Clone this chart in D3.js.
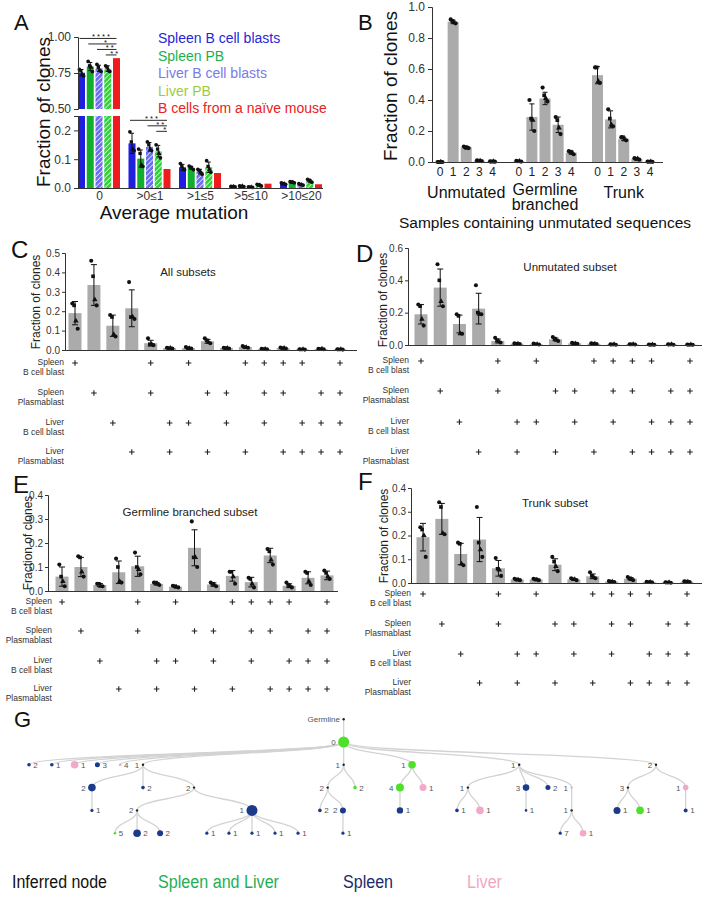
<!DOCTYPE html>
<html>
<head>
<meta charset="utf-8">
<script src="https://cdn.jsdelivr.net/npm/d3@7"></script>
<style>
body { margin: 0; background: #fff; }
text { font-family: "Liberation Sans", Arial, sans-serif; }
</style>
</head>
<body>
<script>
// ---------- panel A data
const aGroups = ['0', '>0≤1', '>1≤5', '>5≤10', '>10≤20'];
const aSeries = ['Spleen B cell blasts', 'Spleen PB', 'Liver B cell blasts', 'Liver PB', 'B cells from a naïve mouse'];
const aSpleenB = [0.752, 0.155, 0.072, 0.005, 0.015];
const aSpleenPB = [0.795, 0.102, 0.070, 0.006, 0.020];
const aLiverB = [0.782, 0.143, 0.057, 0.003, 0.012];
const aLiverPB = [0.780, 0.128, 0.072, 0.010, 0.025];
const aNaive = [0.853, 0.066, 0.052, 0.015, 0.013];
const aSD = [
    [0.022, 0.035, 0.010, 0.001, 0.002],
    [0.028, 0.030, 0.005, 0.001, 0.002],
    [0.022, 0.015, 0.008, 0.001, 0.002],
    [0.020, 0.020, 0.018, 0.003, 0.004],
    [0, 0, 0, 0, 0]
];
const aPoints = [
    [[0.775, 0.765, 0.74, 0.73], [0.195, 0.16, 0.135, 0.13], [0.085, 0.075, 0.065, 0.063], [0.006, 0.005, 0.005, 0.004], [0.018, 0.015, 0.014, 0.013]],
    [[0.83, 0.80, 0.79, 0.76], [0.135, 0.12, 0.08, 0.075], [0.076, 0.072, 0.068, 0.064], [0.007, 0.006, 0.006, 0.005], [0.022, 0.021, 0.019, 0.018]],
    [[0.81, 0.79, 0.77, 0.76], [0.16, 0.15, 0.135, 0.13], [0.065, 0.06, 0.055, 0.048], [0.004, 0.003, 0.003, 0.002], [0.015, 0.012, 0.011, 0.010]],
    [[0.80, 0.79, 0.77, 0.76], [0.15, 0.135, 0.12, 0.105], [0.095, 0.075, 0.065, 0.055], [0.013, 0.011, 0.009, 0.007], [0.030, 0.027, 0.023, 0.020]],
    [[], [], [], [], []]
];
// significance brackets: group, first bar, last bar, stars
const aSig = [
    [0, 0, 4, '* * * *'], [0, 1, 4, '*'], [0, 2, 4, '* *'], [0, 3, 4, '* *'],
    [1, 0, 4, '* * *'], [1, 2, 4, '* *'], [1, 3, 4, '*']
];

// ---------- panel B data
const bGroups = ['Unmutated', 'Germline branched', 'Trunk'];
const bSamples = ['0', '1', '2', '3', '4'];
const bMeans = [
    [0, 0.905, 0.095, 0.008, 0.003],
    [0.005, 0.29, 0.41, 0.24, 0.06],
    [0.56, 0.275, 0.15, 0.02, 0.002]
];
const bSD = [
    [0, 0.01, 0.006, 0.002, 0.001],
    [0.002, 0.085, 0.04, 0.05, 0.01],
    [0.055, 0.055, 0.01, 0.005, 0.001]
];
const bPoints = [
    [[0, 0, 0, 0], [0.92, 0.91, 0.90, 0.895], [0.10, 0.095, 0.09, 0.09], [0.01, 0.008, 0.007, 0.006], [0.004, 0.003, 0.003, 0.002]],
    [[0.008, 0.005, 0.004, 0.003], [0.40, 0.28, 0.27, 0.20], [0.48, 0.43, 0.41, 0.39], [0.29, 0.27, 0.22, 0.18], [0.07, 0.065, 0.06, 0.05]],
    [[0.61, 0.61, 0.52, 0.51], [0.34, 0.28, 0.24, 0.23], [0.16, 0.16, 0.145, 0.14], [0.025, 0.02, 0.02, 0.015], [0.003, 0.002, 0.002, 0.001]]
];

// ---------- panels C-F data (15 sample combinations)
const rowNames = [['Spleen', 'B cell blast'], ['Spleen', 'Plasmablast'], ['Liver', 'B cell blast'], ['Liver', 'Plasmablast']];
const combos = [
    [1, 0, 0, 0], [0, 1, 0, 0], [0, 0, 1, 0], [0, 0, 0, 1],
    [1, 1, 0, 0], [0, 0, 1, 1], [1, 0, 1, 0], [0, 1, 0, 1], [0, 1, 1, 0], [1, 0, 0, 1],
    [1, 1, 1, 0], [1, 1, 0, 1], [1, 0, 1, 1], [0, 1, 1, 1], [1, 1, 1, 1]
];
const cMeans = [0.19, 0.335, 0.125, 0.215, 0.035, 0.01, 0.01, 0.045, 0.01, 0.015, 0.005, 0.01, 0.003, 0.005, 0.003];
const cSD = [0.06, 0.105, 0.055, 0.095, 0.015, 0.002, 0.003, 0.01, 0.002, 0.004, 0.001, 0.002, 0.001, 0.001, 0.001];
const cPoints = [[0.24, 0.23, 0.15, 0.11], [0.46, 0.38, 0.26, 0.23], [0.18, 0.17, 0.08, 0.07], [0.35, 0.17, 0.17, 0.16],
    [0.06, 0.03, 0.03, 0.025], [0.012, 0.01, 0.01, 0.008], [0.015, 0.01, 0.008, 0.007], [0.06, 0.05, 0.04, 0.035],
    [0.012, 0.01, 0.009, 0.008], [0.02, 0.015, 0.013, 0.012], [0.006, 0.005, 0.004, 0.004], [0.013, 0.01, 0.01, 0.008],
    [0.004, 0.003, 0.003, 0.002], [0.006, 0.005, 0.005, 0.004], [0.004, 0.003, 0.003, 0.002]];
const dMeans = [0.19, 0.355, 0.13, 0.225, 0.025, 0.008, 0.005, 0.035, 0.01, 0.008, 0.003, 0.004, 0.002, 0.003, 0.002];
const dSD = [0.06, 0.115, 0.055, 0.095, 0.012, 0.002, 0.003, 0.008, 0.002, 0.002, 0.001, 0.001, 0.001, 0.001, 0.001];
const dPoints = [[0.25, 0.24, 0.16, 0.12], [0.50, 0.40, 0.27, 0.24], [0.19, 0.18, 0.07, 0.07], [0.37, 0.20, 0.19, 0.19],
    [0.045, 0.03, 0.02, 0.015], [0.01, 0.008, 0.007, 0.006], [0.009, 0.005, 0.004, 0.003], [0.05, 0.04, 0.03, 0.025],
    [0.013, 0.01, 0.009, 0.008], [0.01, 0.008, 0.007, 0.006], [0.004, 0.003, 0.003, 0.002], [0.005, 0.004, 0.004, 0.003],
    [0.003, 0.002, 0.002, 0.001], [0.004, 0.003, 0.003, 0.002], [0.003, 0.002, 0.002, 0.001]];
const eMeans = [0.06, 0.10, 0.025, 0.078, 0.103, 0.03, 0.018, 0.18, 0.027, 0.063, 0.037, 0.148, 0.022, 0.055, 0.065];
const eSD = [0.04, 0.04, 0.006, 0.047, 0.042, 0.005, 0.004, 0.075, 0.007, 0.022, 0.02, 0.03, 0.008, 0.025, 0.018];
const ePoints = [[0.11, 0.06, 0.04, 0.02], [0.145, 0.14, 0.08, 0.06], [0.03, 0.03, 0.02, 0.02], [0.135, 0.10, 0.04, 0.035],
    [0.16, 0.10, 0.09, 0.07], [0.035, 0.035, 0.03, 0.025], [0.022, 0.02, 0.016, 0.015], [0.29, 0.14, 0.14, 0.10],
    [0.035, 0.03, 0.025, 0.02], [0.08, 0.08, 0.06, 0.03], [0.055, 0.05, 0.03, 0.015], [0.175, 0.165, 0.13, 0.11],
    [0.035, 0.025, 0.02, 0.015], [0.08, 0.075, 0.04, 0.025], [0.085, 0.075, 0.06, 0.05]];
const fMeans = [0.193, 0.27, 0.122, 0.183, 0.062, 0.015, 0.015, 0.077, 0.015, 0.028, 0.006, 0.018, 0.004, 0.002, 0.005];
const fSD = [0.058, 0.065, 0.045, 0.093, 0.033, 0.003, 0.003, 0.025, 0.003, 0.01, 0.002, 0.005, 0.001, 0.001, 0.001];
const fPoints = [[0.235, 0.225, 0.20, 0.11], [0.34, 0.32, 0.21, 0.205], [0.17, 0.165, 0.08, 0.075], [0.32, 0.17, 0.14, 0.11],
    [0.105, 0.06, 0.055, 0.03], [0.018, 0.015, 0.013, 0.012], [0.018, 0.016, 0.013, 0.012], [0.11, 0.09, 0.07, 0.05],
    [0.02, 0.016, 0.015, 0.012], [0.045, 0.03, 0.025, 0.02], [0.008, 0.006, 0.005, 0.004], [0.025, 0.02, 0.015, 0.012],
    [0.005, 0.004, 0.004, 0.003], [0.003, 0.002, 0.002, 0.001], [0.007, 0.006, 0.005, 0.004]];

// ---------- panel G data: id, parent, depth, column, type, count label, label side, radius
const treeNodes = [
    ['g', null, -1, 13.8, 'inf', 'Germline', 'l', 1.2],
    ['r', 'g', 0, 13.8, 'both', '0', 'l', 5.5],
    ['a1', 'r', 1, 0, 'spl', '2', 'r', 1.8], ['a2', 'r', 1, 1, 'spl', '1', 'r', 1.8],
    ['a3', 'r', 1, 2, 'liv', '1', 'r', 3.8], ['a4', 'r', 1, 3, 'spl', '3', 'r', 2.5],
    ['a5', 'r', 1, 4, 'liv', '4', 'r', 1.4], ['a6', 'r', 1, 5, 'inf', '1', 'l', 1.2],
    ['a7', 'r', 1, 13.8, 'inf', '1', 'l', 1.2], ['a8', 'r', 1, 16.8, 'both', '1', 'l', 3.8],
    ['a9', 'r', 1, 21.5, 'inf', '1', 'l', 1.2], ['a10', 'r', 1, 27.5, 'inf', '2', 'l', 1.2],
    ['b1', 'a6', 2, 2.76, 'spl', '2', 'l', 3.8], ['b2', 'a6', 2, 5, 'spl', '2', 'r', 1.8],
    ['b3', 'a6', 2, 7.24, 'inf', '2', 'l', 1.2], ['b4', 'a7', 2, 13.1, 'inf', '2', 'l', 1.2],
    ['b5', 'a7', 2, 14.3, 'both', '2', 'r', 1.8], ['b6', 'a8', 2, 16.27, 'both', '4', 'l', 4],
    ['b7', 'a8', 2, 17.28, 'liv', '1', 'r', 3.5], ['b8', 'a9', 2, 19.25, 'inf', '1', 'l', 1.2],
    ['b9', 'a9', 2, 21.8, 'spl', '3', 'l', 3.3], ['b10', 'a9', 2, 22.76, 'spl', '2', 'r', 2.5],
    ['b11', 'a9', 2, 23.8, 'liv', '1', 'l', 1.2], ['b12', 'a10', 2, 26.27, 'inf', '3', 'l', 1.2],
    ['b13', 'a10', 2, 28.8, 'liv', '1', 'l', 2.8],
    ['c1', 'b1', 3, 2.76, 'spl', '1', 'r', 1.6], ['c2', 'b3', 3, 4.74, 'inf', '2', 'l', 1.2],
    ['c3', 'b3', 3, 9.78, 'spl', '1', 'l', 5.5], ['c4', 'b4', 3, 12.76, 'spl', '2', 'r', 1.8],
    ['c5', 'b4', 3, 13.77, 'spl', '2', 'l', 3], ['c6', 'b6', 3, 16.27, 'spl', '1', 'r', 3.2],
    ['c7', 'b8', 3, 18.77, 'spl', '1', 'r', 1.8], ['c8', 'b8', 3, 19.78, 'liv', '1', 'r', 3.8],
    ['c9', 'b9', 3, 21.8, 'spl', '1', 'r', 1.3], ['c10', 'b11', 3, 23.8, 'inf', '1', 'l', 1.2],
    ['c11', 'b12', 3, 25.79, 'spl', '1', 'r', 3.5], ['c12', 'b12', 3, 26.8, 'both', '1', 'r', 3.8],
    ['c13', 'b13', 3, 28.8, 'spl', '1', 'r', 2],
    ['d1', 'c2', 4, 3.77, 'both', '5', 'r', 1.3], ['d2', 'c2', 4, 4.74, 'spl', '2', 'r', 3.8],
    ['d3', 'c2', 4, 5.75, 'spl', '2', 'r', 3], ['d4', 'c3', 4, 7.8, 'spl', '1', 'r', 1.6],
    ['d5', 'c3', 4, 8.77, 'spl', '1', 'r', 1.6], ['d6', 'c3', 4, 9.78, 'spl', '1', 'r', 1.6],
    ['d7', 'c3', 4, 10.79, 'spl', '1', 'r', 1.6], ['d8', 'c3', 4, 11.8, 'spl', '1', 'r', 1.6],
    ['d9', 'c5', 4, 13.77, 'spl', '1', 'r', 1.6], ['d10', 'c10', 4, 23.3, 'spl', '7', 'r', 1.6],
    ['d11', 'c10', 4, 24.3, 'liv', '1', 'r', 3.3]
];
const legendNames = ['Inferred node', 'Spleen and Liver', 'Spleen', 'Liver'];

// ---------- setup
const width = 712, height = 900;
const svg = d3.select('body').append('svg')
    .attr('width', width)
    .attr('height', height);
const defs = svg.append('defs');

function hatch(id, bg) {
    const p = defs.append('pattern')
        .attr('id', id)
        .attr('patternUnits', 'userSpaceOnUse')
        .attr('width', 3.5).attr('height', 3.5)
        .attr('patternTransform', 'rotate(45)');
    p.append('rect').attr('width', 3.5).attr('height', 3.5).attr('fill', bg);
    p.append('line').attr('x1', 0).attr('y1', 0).attr('x2', 0).attr('y2', 3.5)
        .attr('stroke', '#fff').attr('stroke-width', 1.4);
}
hatch('hatchBlue', '#6b6bf2');
hatch('hatchGreen', '#30d23a');

const shapes = [d3.symbolCircle, d3.symbolSquare, d3.symbolTriangle, d3.symbolCircle];
const offs = [-1.5, -0.5, 0.5, 1.5];

function dots(g, pts, cx, y, size, spread) {
    pts.forEach((p, i) => {
        g.append('path')
            .attr('d', d3.symbol().type(shapes[i]).size(size)())
            .attr('transform', `translate(${cx + offs[i] * spread},${y(p)})`)
            .attr('fill', '#111');
    });
}

function errBar(g, cx, y1, y2, cap) {
    g.append('line').attr('x1', cx).attr('x2', cx).attr('y1', y1).attr('y2', y2)
        .attr('stroke', '#111').attr('stroke-width', 1);
    [y1, y2].forEach(yy => g.append('line')
        .attr('x1', cx - cap / 2).attr('x2', cx + cap / 2).attr('y1', yy).attr('y2', yy)
        .attr('stroke', '#111').attr('stroke-width', 1));
}

function plus(g, cx, cy) {
    g.append('path')
        .attr('d', `M${cx - 2.8},${cy}H${cx + 2.8}M${cx},${cy - 2.8}V${cy + 2.8}`)
        .attr('stroke', '#222').attr('stroke-width', 1.1).attr('fill', 'none');
}

function letter(txt, x, y, size) {
    svg.append('text').attr('x', x).attr('y', y).attr('font-size', size).attr('fill', '#111').text(txt);
}

function styleAxis(g, size) {
    g.attr('font-size', size).attr('font-family', null);
    g.selectAll('path, line').attr('stroke', '#333');
    g.selectAll('text').attr('fill', '#333');
}

// ---------- panel A
const gA = svg.append('g');
const aColors = ['#1f1fe0', '#12ae2e', 'url(#hatchBlue)', 'url(#hatchGreen)', '#ee1c1c'];
const aLegendColors = ['#2626d8', '#1eae4c', '#7a7ae8', '#9ccc3e', '#e82222'];
const aValues = [aSpleenB, aSpleenPB, aLiverB, aLiverPB, aNaive];

const x0 = d3.scalePoint().domain(aGroups).range([99, 301]);
const x1 = d3.scaleBand().domain(d3.range(5)).range([-21, 21]).paddingInner(0.2);
const yLow = d3.scaleLinear().domain([0, 0.25]).range([188, 116]);
const yHigh = d3.scaleLinear().domain([0.5, 1]).range([109, 37]);
const yA = v => v >= 0.5 ? yHigh(v) : yLow(Math.min(v, 0.25));

const aBars = [];
aValues.forEach((vals, s) => vals.forEach((v, gi) => aBars.push({ s, gi, v, sd: aSD[s][gi], pts: aPoints[s][gi] })));

aBars.forEach(d => {
    const x = x0(aGroups[d.gi]) + x1(d.s);
    const cx = x + x1.bandwidth() / 2;
    if (d.v > 0.25) {
        gA.append('rect').attr('x', x).attr('width', x1.bandwidth())
            .attr('y', yLow(0.25)).attr('height', yLow(0) - yLow(0.25)).attr('fill', aColors[d.s]);
        gA.append('rect').attr('x', x).attr('width', x1.bandwidth())
            .attr('y', yHigh(d.v)).attr('height', yHigh(0.5) - yHigh(d.v)).attr('fill', aColors[d.s]);
    } else {
        gA.append('rect').attr('x', x).attr('width', x1.bandwidth())
            .attr('y', yLow(d.v)).attr('height', yLow(0) - yLow(d.v)).attr('fill', aColors[d.s]);
    }
    if (d.sd > 0) errBar(gA, cx, yA(d.v - d.sd), yA(d.v + d.sd), 4);
    dots(gA, d.pts, cx, yA, 11, 1.4);
});

const aHigh = gA.append('g').attr('transform', 'translate(78,0)')
    .call(d3.axisLeft(yHigh).tickValues([0.5, 0.75, 1]).tickFormat(d3.format('.2f')).tickSize(4));
styleAxis(aHigh, 12);
const aLow = gA.append('g').attr('transform', 'translate(78,0)')
    .call(d3.axisLeft(yLow).tickValues([0, 0.1, 0.2]).tickFormat(d3.format('.1f')).tickSize(4));
styleAxis(aLow, 12);
const aX = gA.append('g').attr('transform', 'translate(0,188)')
    .call(d3.axisBottom(x0).tickSize(0).tickPadding(3));
aX.select('.domain').remove();
styleAxis(aX, 12);
gA.append('line').attr('x1', 78).attr('x2', 323).attr('y1', 188.5).attr('y2', 188.5).attr('stroke', '#333');

aSig.forEach((d, i) => {
    const base = d[0] === 0 ? yHigh(0.99) : yLow(0.235);
    const k = d[0] === 0 ? i : i - 4;
    const yy = base + k * 5.5;
    const xa = x0(aGroups[d[0]]) + x1(d[1]) + x1.bandwidth() / 2;
    const xb = x0(aGroups[d[0]]) + x1(d[2]) + x1.bandwidth() / 2;
    gA.append('line').attr('x1', xa - 2).attr('x2', xb).attr('y1', yy).attr('y2', yy)
        .attr('stroke', '#111').attr('stroke-width', 0.9);
    gA.append('text').attr('x', (xa + xb) / 2 + 2).attr('y', yy + 1).attr('text-anchor', 'middle')
        .attr('font-size', 7.5).attr('fill', '#111').text(d[3]);
});

aSeries.forEach((name, i) => {
    gA.append('text').attr('x', 158).attr('y', 43 + i * 17.5)
        .attr('font-size', 14).attr('fill', aLegendColors[i]).text(name);
});
gA.append('text').attr('transform', 'translate(50,112) rotate(-90)')
    .attr('text-anchor', 'middle').attr('font-size', 19).attr('fill', '#111').text('Fraction of clones');
gA.append('text').attr('x', 174).attr('y', 219).attr('text-anchor', 'middle')
    .attr('font-size', 19).attr('fill', '#111').text('Average mutation');
letter('A', 14, 30, 22);

// ---------- panel B
const gB = svg.append('g');
const xB = d3.scaleLinear().domain([0, 16]).range([440, 650]);
const yB = d3.scaleLinear().domain([0, 1]).range([162, 7]);
bGroups.forEach((grp, gi) => bSamples.forEach((s, si) => {
    const slot = gi * 6 + si;
    const cx = xB(slot);
    const v = bMeans[gi][si];
    gB.append('rect').attr('x', cx - 5.5).attr('width', 11)
        .attr('y', yB(v)).attr('height', yB(0) - yB(v)).attr('fill', '#ababab');
    if (bSD[gi][si] > 0.004) errBar(gB, cx, yB(v - bSD[gi][si]), yB(v + bSD[gi][si]), 5);
    dots(gB, bPoints[gi][si], cx, yB, 14, 1.6);
    gB.append('text').attr('x', cx).attr('y', 176).attr('text-anchor', 'middle')
        .attr('font-size', 12).attr('fill', '#222').text(s);
}));
const bY = gB.append('g').attr('transform', 'translate(432,0)')
    .call(d3.axisLeft(yB).ticks(5).tickFormat(d3.format('.1f')).tickSize(4));
styleAxis(bY, 12);
gB.append('line').attr('x1', 432).attr('x2', 663).attr('y1', 162.5).attr('y2', 162.5).attr('stroke', '#333');
gB.append('text').attr('x', xB(2)).attr('y', 198).attr('text-anchor', 'middle')
    .attr('font-size', 16).attr('fill', '#111').text('Unmutated');
gB.append('text').attr('x', xB(8)).attr('y', 195).attr('text-anchor', 'middle')
    .attr('font-size', 16).attr('fill', '#111').text('Germline');
gB.append('text').attr('x', xB(8)).attr('y', 210).attr('text-anchor', 'middle')
    .attr('font-size', 16).attr('fill', '#111').text('branched');
gB.append('text').attr('x', xB(14)).attr('y', 198).attr('text-anchor', 'middle')
    .attr('font-size', 16).attr('fill', '#111').text('Trunk');
gB.append('text').attr('x', 545).attr('y', 228).attr('text-anchor', 'middle')
    .attr('font-size', 15.5).attr('fill', '#111').text('Samples containing unmutated sequences');
gB.append('text').attr('transform', 'translate(397,86) rotate(-90)')
    .attr('text-anchor', 'middle').attr('font-size', 19).attr('fill', '#111').text('Fraction of clones');
letter('B', 358, 30, 22);

// ---------- panels C-F
function comboPanel(cfg, means, sds, pts) {
    const g = svg.append('g');
    const x = d3.scaleLinear().domain([0, 14]).range([cfg.c1, cfg.c15]);
    const y = d3.scaleLinear().domain([0, cfg.yMax]).range([cfg.y0, cfg.yTop]);
    means.forEach((v, i) => {
        const cx = x(i);
        g.append('rect').attr('x', cx - 6.5).attr('width', 13)
            .attr('y', y(v)).attr('height', y(0) - y(v)).attr('fill', '#ababab');
        if (sds[i] > 0.004) errBar(g, cx, y(v - sds[i]), y(v + sds[i]), 6);
        dots(g, pts[i], cx, y, 13, 1.8);
    });
    const ax = g.append('g').attr('transform', `translate(${cfg.ax},0)`)
        .call(d3.axisLeft(y).tickValues(cfg.ticks).tickFormat(d3.format('.1f')).tickSize(3).tickPadding(2));
    styleAxis(ax, 10);
    g.append('line').attr('x1', cfg.ax).attr('x2', cfg.axEnd).attr('y1', cfg.y0 + 0.5).attr('y2', cfg.y0 + 0.5)
        .attr('stroke', '#333');
    rowNames.forEach((names, r) => {
        const ry = cfg.rows[r];
        g.append('text').attr('x', cfg.labX).attr('y', ry + 2).attr('text-anchor', 'end')
            .attr('font-size', 8.5).attr('fill', '#333').text(names[0]);
        g.append('text').attr('x', cfg.labX).attr('y', ry + 12).attr('text-anchor', 'end')
            .attr('font-size', 8.5).attr('fill', '#333').text(names[1]);
        combos.forEach((c, i) => { if (c[r]) plus(g, x(i), ry); });
    });
    g.append('text').attr('x', cfg.tx).attr('y', cfg.ty).attr('text-anchor', 'middle')
        .attr('font-size', 11.5).attr('fill', '#222').text(cfg.title);
    g.append('text').attr('transform', `translate(${cfg.ylx},${cfg.yly}) rotate(-90)`)
        .attr('text-anchor', 'middle').attr('font-size', 12).attr('fill', '#222').text('Fraction of clones');
    letter(cfg.letter, cfg.lx, cfg.ly, 24);
}

comboPanel({ ax: 65, axEnd: 357, y0: 350, yTop: 253, yMax: 0.5, ticks: [0, 0.1, 0.2, 0.3, 0.4, 0.5], c1: 75, c15: 340,
    rows: [363, 393, 423, 452], labX: 64, title: 'All subsets', tx: 188, ty: 276, ylx: 39.5, yly: 302,
    letter: 'C', lx: 11, ly: 258 }, cMeans, cSD, cPoints);
comboPanel({ ax: 408, axEnd: 702, y0: 345, yTop: 248, yMax: 0.6, ticks: [0, 0.2, 0.4, 0.6], c1: 421, c15: 690,
    rows: [361, 391, 422, 452], labX: 409, title: 'Unmutated subset', tx: 570, ty: 271, ylx: 387, yly: 300,
    letter: 'D', lx: 356, ly: 262 }, dMeans, dSD, dPoints);
comboPanel({ ax: 48, axEnd: 338, y0: 591, yTop: 495, yMax: 0.4, ticks: [0, 0.1, 0.2, 0.3, 0.4], c1: 62, c15: 327,
    rows: [602, 631, 661, 689], labX: 52, title: 'Germline branched subset', tx: 190, ty: 516, ylx: 32, yly: 543,
    letter: 'E', lx: 13, ly: 493 }, eMeans, eSD, ePoints);
comboPanel({ ax: 411, axEnd: 702, y0: 583, yTop: 488, yMax: 0.4, ticks: [0, 0.1, 0.2, 0.3, 0.4], c1: 423, c15: 687,
    rows: [594, 624, 654, 683], labX: 411, title: 'Trunk subset', tx: 555, ty: 507, ylx: 388, yly: 536,
    letter: 'F', lx: 358, ly: 490 }, fMeans, fSD, fPoints);

// ---------- panel G: lineage tree
const gG = svg.append('g');
const tx = d3.scaleLinear().domain([0, 1]).range([29, 51.8]);
const ty = d3.scaleLinear().domain([0, 1]).range([742, 764.8]);
const nodeColor = { inf: '#222', both: '#4ee02a', spl: '#1b3a8c', liv: '#f4a8c8' };
const nodes = new Map();
treeNodes.forEach(n => nodes.set(n[0], { id: n[0], parent: n[1], x: tx(n[3]), y: ty(n[2]), type: n[4], label: n[5], side: n[6], r: n[7] }));
const link = d3.linkVertical().x(d => d.x).y(d => d.y);
const links = [];
nodes.forEach(n => { if (n.parent) links.push({ source: nodes.get(n.parent), target: n }); });
gG.selectAll('path.link').data(links).enter().append('path')
    .attr('class', 'link')
    .attr('d', link)
    .attr('fill', 'none')
    .attr('stroke', '#d3d3d3')
    .attr('stroke-width', 1.3);
nodes.forEach(n => {
    gG.append('circle').attr('cx', n.x).attr('cy', n.y).attr('r', n.r).attr('fill', nodeColor[n.type]);
    gG.append('text')
        .attr('x', n.side === 'l' ? n.x - n.r - 2.5 : n.x + n.r + 2.5)
        .attr('y', n.y + 3)
        .attr('text-anchor', n.side === 'l' ? 'end' : 'start')
        .attr('font-size', 8).attr('fill', '#555').text(n.label);
});
letter('G', 14, 727, 22);

// legend
const legendColors = ['#111', '#1fae55', '#1c2a6b', '#f2a7bf'];
const legendX = [12, 158, 343, 467];
const legendW = [95, 121, 50, 35];
legendNames.forEach((name, i) => {
    svg.append('text').attr('x', legendX[i]).attr('y', 888)
        .attr('font-size', 18).attr('fill', legendColors[i])
        .attr('textLength', legendW[i]).attr('lengthAdjust', 'spacingAndGlyphs')
        .text(name);
});
</script>
</body>
</html>
